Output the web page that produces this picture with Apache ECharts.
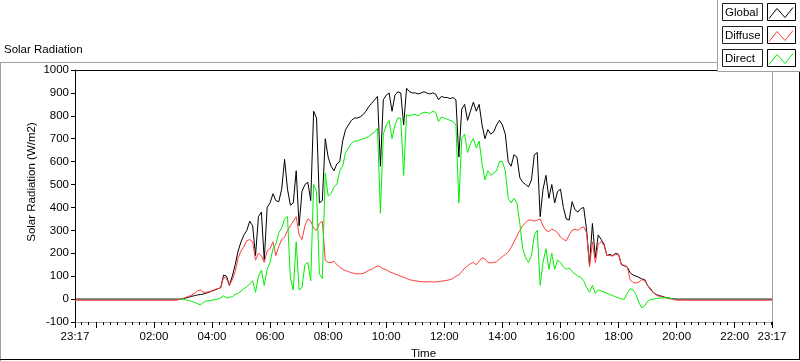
<!DOCTYPE html>
<html>
<head>
<meta charset="utf-8">
<script src="https://cdn.jsdelivr.net/npm/echarts@6/dist/echarts.min.js"></script>
<style>
html,body{margin:0;padding:0;background:#fff;}
#main{width:800px;height:361px;}
</style>
</head>
<body>
<div id="main"></div>
<script>
// samples: first one is the evening before, last one is the same evening
var times = [
  "23:17",
  "02:48","02:54",
  "03:00","03:06","03:12","03:18","03:24","03:30","03:36","03:42","03:48","03:54",
  "04:00","04:06","04:12","04:18","04:24","04:30","04:36","04:42","04:48","04:54",
  "05:00","05:06","05:12","05:18","05:24","05:30","05:36","05:42","05:48","05:54",
  "06:00","06:06","06:12","06:18","06:24","06:30","06:36","06:42","06:48","06:54",
  "07:00","07:06","07:12","07:18","07:24","07:30","07:36","07:42","07:48","07:54",
  "08:00","08:06","08:12","08:18","08:24","08:30","08:36","08:42","08:48","08:54",
  "09:00","09:06","09:12","09:18","09:24","09:30","09:36","09:42","09:48","09:54",
  "10:00","10:06","10:12","10:18","10:24","10:30","10:36","10:42","10:48","10:54",
  "11:00","11:06","11:12","11:18","11:24","11:30","11:36","11:42","11:48","11:54",
  "12:00","12:06","12:12","12:18","12:24","12:30","12:36","12:42","12:48","12:54",
  "13:00","13:06","13:12","13:18","13:24","13:30","13:36","13:42","13:48","13:54",
  "14:00","14:06","14:12","14:18","14:24","14:30","14:36","14:42","14:48","14:54",
  "15:00","15:06","15:12","15:18","15:24","15:30","15:36","15:42","15:48","15:54",
  "16:00","16:06","16:12","16:18","16:24","16:30","16:36","16:42","16:48","16:54",
  "17:00","17:06","17:12","17:18","17:24","17:30","17:36","17:42","17:48","17:54",
  "18:00","18:06","18:12","18:18","18:24","18:30","18:36","18:42","18:48","18:54",
  "19:00","19:06","19:12","19:18","19:24","19:30","19:36","19:42","19:48","19:54",
  "20:00",
  "23:17"
];

var globalVals = [
  0,
  0, 0,
  2, 5, 8, 12, 15, 18, 20, 22, 26, 30,
  35, 40, 45, 50, 105, 100, 60, 100, 150, 210,
  250, 280, 300, 340, 320, 190, 360, 380, 170, 400,
  420, 460, 430, 425, 480, 610, 480, 410, 420, 560,
  320, 470, 500, 510, 430, 820, 790, 420, 430, 700,
  620, 580, 560, 590, 600, 690, 740, 760, 780, 790,
  790, 795, 805, 820, 840, 855, 870, 885, 580, 870,
  890, 900, 820, 890, 905, 900, 760, 920, 905, 900,
  900, 895, 900, 905, 900, 895, 900, 895, 870, 885,
  880, 880, 875, 880, 870, 620, 830, 850, 780, 820,
  860, 820, 850, 760, 700, 740, 720, 730, 760, 780,
  760, 720, 600, 580, 630, 620, 530, 510, 500, 490,
  520, 630, 640, 360, 480, 540, 440, 500, 420, 470,
  480, 400, 350, 345, 425, 390, 380, 395, 400, 300,
  150, 330, 180, 280, 260, 240, 190, 195, 190, 200,
  195, 150, 145, 140, 115, 105, 100, 95, 88, 85,
  60, 45, 28, 20, 15, 12, 8, 5, 3, 1,
  0,
  0
];

var diffuseVals = [
  -5,
  -5, 0,
  2, 8, 12, 18, 25, 35, 40, 30, 30, 32,
  36, 42, 45, 50, 95, 90, 60, 85, 120, 180,
  210, 230, 255, 260, 250, 170, 200, 190, 160, 210,
  220, 250, 190, 230, 260, 270, 300, 320, 340, 360,
  280, 260, 320, 350, 340, 310, 300, 330, 340, 170,
  160, 160, 165, 150, 140, 130, 125, 120, 115, 112,
  110, 110, 112, 118, 125, 130, 138, 145, 140, 132,
  128, 120, 115, 110, 105, 100, 95, 90, 85, 82,
  80, 78, 76, 75, 75, 76, 75, 75, 76, 78,
  80, 82, 85, 90, 100, 105, 120, 135, 145, 155,
  160, 150, 165, 180, 175, 160, 158, 160, 163, 175,
  185, 195, 205, 225, 250, 275, 300, 320, 335, 345,
  345, 340, 345, 350, 320, 300, 295, 305, 300, 290,
  270, 260, 255, 280, 300, 305, 300, 310, 315, 290,
  140, 250, 160, 240, 250, 235, 190, 190, 188, 195,
  195, 150, 148, 140, 85, 72, 70, 75, 85, 80,
  60, 40, 28, 18, 12, 10, 6, 3, 0, -2,
  -5,
  -5
];

var directVals = [
  null,
  null, 0,
  0, -3, -6, -10, -15, -20, -25, -15, -8, -8,
  -5, -3, 0, 5, 15, 5, 8, 10, 20, 25,
  35, 45, 55, 65, 80, 30, 100, 125, 60, 130,
  160, 220, 240, 290, 310, 350, 360, 90, 40, 250,
  40, 50, 150, 160, 80, 500, 470, 110, 90, 550,
  450, 460, 490, 500, 560, 580, 640, 660, 680, 690,
  690, 695, 700, 705, 710, 720, 730, 745, 375, 720,
  760, 780, 700, 760, 790, 790, 540, 805, 800, 805,
  805, 800, 810, 815, 815, 810, 820, 815, 775, 795,
  790, 785, 780, 775, 760, 420, 700, 720, 640, 680,
  700, 660, 690, 590, 520, 560, 540, 550, 560, 600,
  600, 560, 440, 420, 440, 420, 330, 220, 180, 160,
  190, 280, 300, 60, 160, 220, 130, 200, 130, 170,
  160, 140, 130, 135, 120, 110, 100, 95, 80, 50,
  30, 60, 25, 40, 35, 30, 25, 20, 15, 10,
  5, 0, 0, 25, 45, 40, 20, -15, -38, -30,
  -10, -3, 0, 2, 4, 5, 6, 5, 3, 0,
  null,
  null
];

var timeLabels = ["23:17","02:00","04:00","06:00","08:00","10:00","12:00","14:00","16:00","18:00","20:00","22:00","23:17"];
var majorTicks = ["23:17","00:00","02:00","04:00","06:00","08:00","10:00","12:00","14:00","16:00","18:00","20:00","22:00","23:17"];

// minutes after midnight; the first entry of a list belongs to the evening before
var toMin = function(s, i){
  var p = s.split(":");
  var m = parseInt(p[0], 10) * 60 + parseInt(p[1], 10);
  if (i === 0 && m > 720) m -= 1440;
  return m;
};

var xMin = toMin(times[0], 0);
var xMax = toMin(times[times.length - 1], times.length - 1);

var labelVals = [];
var labelText = {};
for (var i = 0; i < timeLabels.length; i++) {
  var v = toMin(timeLabels[i], i);
  labelVals.push(v);
  labelText[v] = timeLabels[i];
}
var majorVals = majorTicks.map(toMin);
var minorVals = [];
for (var m = -30; m < xMax; m += 15) minorVals.push(m);

var pairs = function(vals){
  return times.map(function(t, i){ return [toMin(t, i), vals[i]]; });
};

var font = "Liberation Sans";
var legendRows = [
  {name: "Global", color: "#000000"},
  {name: "Diffuse", color: "#ff3c3c"},
  {name: "Direct", color: "#00f000"}
];

var graphics = [
  // outer panel
  {type: "line", shape: {x1: 0, y1: 62.5, x2: 717, y2: 62.5}, style: {stroke: "#a0a0a0", lineWidth: 1}},
  {type: "line", shape: {x1: 0.5, y1: 62, x2: 0.5, y2: 361}, style: {stroke: "#a0a0a0", lineWidth: 1}},
  {type: "line", shape: {x1: 0, y1: 359.5, x2: 800, y2: 359.5}, style: {stroke: "#000", lineWidth: 1}},
  {type: "line", shape: {x1: 799.5, y1: 62, x2: 799.5, y2: 360}, style: {stroke: "#000", lineWidth: 1}},
  // plot frame top / right
  {type: "line", shape: {x1: 74, y1: 70.5, x2: 772, y2: 70.5}, style: {stroke: "#000", lineWidth: 1}},
  {type: "line", shape: {x1: 772.5, y1: 70, x2: 772.5, y2: 322}, style: {stroke: "#a0a0a0", lineWidth: 1}},
  {type: "text", left: 4, top: 44, style: {text: "Solar Radiation", font: "11.5px " + font, fill: "#000"}},
  {type: "text", x: 32, y: 182, rotation: Math.PI / 2,
    style: {text: "Solar Radiation (W/m2)", font: "11.5px " + font, fill: "#000", align: "center", verticalAlign: "middle"}},
  // legend panel
  {type: "rect", shape: {x: 717.5, y: -2, width: 90, height: 73.5}, style: {fill: "#fff", stroke: "#a0a0a0", lineWidth: 1}, z: 10}
];
legendRows.forEach(function(r, k){
  var top = 3.5 + k * 23;
  graphics.push({type: "rect", z: 11, shape: {x: 722.5, y: top, width: 40, height: 17}, style: {fill: "#fff", stroke: "#222", lineWidth: 1}});
  graphics.push({type: "text", z: 12, x: 725, y: top + 9, style: {text: r.name, font: "11.5px " + font, fill: "#000", verticalAlign: "middle"}});
  graphics.push({type: "rect", z: 11, shape: {x: 767.5, y: top, width: 28, height: 17}, style: {fill: "#fff", stroke: "#000", lineWidth: 1}});
  graphics.push({type: "polyline", z: 12, shape: {points: [[769, top + 15], [777, top + 5], [785, top + 14], [793, top + 4]]}, style: {stroke: r.color, lineWidth: 1, fill: null}});
});

var mkSeries = function(name, color, vals){
  return {
    name: name, type: "line", data: pairs(vals), symbol: "none",
    connectNulls: false, silent: true, animation: false,
    lineStyle: {color: color, width: 1}, itemStyle: {color: color}
  };
};

var myChart = echarts.init(document.getElementById("main"));
var options = {
  backgroundColor: "#fff",
  animation: false,
  grid: {left: 75, right: 28, top: 70, bottom: 39, outerBoundsMode: "none"},
  xAxis: [
    {
      type: "value", min: xMin, max: xMax,
      name: "Time", nameLocation: "middle", nameGap: 25,
      nameTextStyle: {color: "#000", fontFamily: font, fontSize: 11.5},
      axisLine: {show: true, onZero: false, lineStyle: {color: "#a0a0a0", width: 1}},
      axisTick: {show: true, customValues: minorVals, length: 3, lineStyle: {color: "#000"}},
      axisLabel: {customValues: labelVals, margin: 9, color: "#000", fontFamily: font, fontSize: 11.5,
        formatter: function(v){ return labelText[v] || ""; }},
      splitLine: {show: false}
    },
    {
      type: "value", min: xMin, max: xMax, position: "bottom",
      axisLine: {show: false, onZero: false},
      axisTick: {show: true, customValues: majorVals, length: 6, lineStyle: {color: "#000"}},
      axisLabel: {show: false},
      splitLine: {show: false}
    }
  ],
  yAxis: {
    type: "value", min: -100, max: 1000, interval: 100,
    axisLine: {show: true, onZero: false, lineStyle: {color: "#000", width: 1}},
    axisTick: {show: true, length: 4, lineStyle: {color: "#000"}},
    axisLabel: {margin: 6, color: "#000", fontFamily: font, fontSize: 11.5,
      formatter: function(v){ return String(v); }},
    splitLine: {show: false}
  },
  graphic: graphics,
  series: [
    mkSeries("Global", legendRows[0].color, globalVals),
    mkSeries("Diffuse", legendRows[1].color, diffuseVals),
    mkSeries("Direct", legendRows[2].color, directVals)
  ]
};
myChart.setOption(options);
</script>
</body>
</html>
